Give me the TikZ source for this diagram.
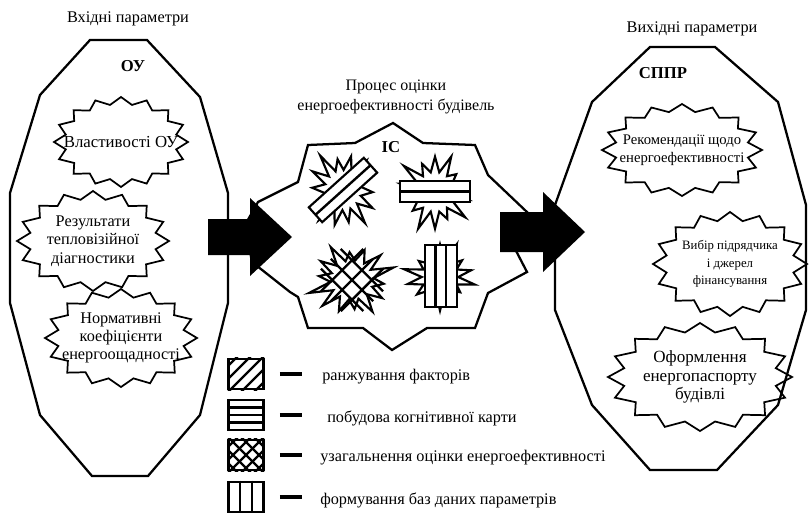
\documentclass[tikz,border=0pt]{standalone}
\usepackage{fontspec}
\setmainfont{Liberation Serif}
\usetikzlibrary{calc}

% wavy "seal" outline round a text node: centre, x radius, y radius, inner ratio
\newcommand\sealoutline[4]{%
  \draw[sealline, shift={(#1)}] plot[samples at={0,...,31}]
    ({(1-(1-#4)*mod(\x,2))*#2*cos(90+\x*11.25)},
     {(1-(1-#4)*mod(\x,2))*#3*sin(90+\x*11.25)}) -- cycle;}

% irregular spiky burst: centre, x radius, y radius, rotation, seed
\newcommand\burst[5]{%
  \draw[burstline, shift={(#1)}, rotate=#4] plot[samples at={0,...,27}]
    ({(mod(\x,2)*0.48+(1-mod(\x,2))*(0.68+0.032*mod(7*\x+#5,11)))*#2*cos(90+\x*360/28)},
     {(mod(\x,2)*0.48+(1-mod(\x,2))*(0.68+0.032*mod(7*\x+#5,11)))*#3*sin(90+\x*360/28)}) -- cycle;}

% black block arrow: base, body length, body half height, head length, head half height
\newcommand\blockarrow[5]{%
  \fill (#1) ++(0,-#3) -- ++(#2,0) -- ++(0,{-(#5-#3)}) -- ++(#4,#5)
    -- ++(-#4,#5) -- ++(0,{-(#5-#3)}) -- ++(-#2,0) -- cycle;}

\begin{document}
\begin{tikzpicture}[x=0.75pt,y=-0.75pt,
  every node/.style={inner sep=0pt, align=center},
  rm/.style={font=\fontsize{12.2}{13.7}\selectfont},
  hd/.style={font=\fontsize{12.5}{14}\selectfont\bfseries},
  shell/.style={line width=1.7pt, line join=miter},
  sealline/.style={line width=1.3pt, line join=miter},
  burstline/.style={line width=1.6pt, line join=miter, fill=white},
  band/.style={line width=1.6pt, fill=white},
  keybox/.style={draw, line width=2.2pt, minimum width=26pt, minimum height=22.5pt},
  keyline/.style={line width=1.8pt},
  keydash/.style={line width=2.6pt}]

\useasboundingbox[fill=white] (0,0) rectangle (809,515);

% ---- headings
\node[rm] (tin)  at (128,19) {Вхідні параметри};
\node[rm] (tout) at (692,29) {Вихідні параметри};
\node[font=\fontsize{12}{15}\selectfont] (proc) at (396,97) {Процес оцінки\\енергоефективності будівель};

% ---- outer shells
\draw[shell] (90,40) -- (147,40) -- (200,97) -- (228,193) -- (228,303) -- (200,415)
  -- (148,476) -- (92,476) -- (40,415) -- (10,303) -- (10,193) -- (40,95) -- cycle;
\draw[shell] (650,47) -- (715,47) -- (778,102) -- (806,205) -- (806,310) -- (778,405)
  -- (717,470) -- (650,470) -- (592,405) -- (555,310) -- (555,205) -- (592,102) -- cycle;
\draw[shell] (393,123) -- (423,143) -- (475,145) -- (488,175) -- (528,213) -- (513,245)
  -- (527,272) -- (488,293) -- (475,328) -- (427,328) -- (392,350) -- (363,328)
  -- (308,328) -- (298,297) -- (290,292) -- (252,262) -- (245,225) -- (258,202)
  -- (298,182) -- (308,145) -- (355,143) -- cycle;

\node[hd] (ou)   at (133,66) {ОУ};
\node[hd] (ic)   at (391,147) {ІС};
\node[hd] (sppr) at (663,73) {СППР};

% ---- input parameters
\node[font=\fontsize{12.6}{13.7}\selectfont] (s1) at (121,142) {Властивості ОУ};
\node[rm] (s2) at (93,241) {Результати\\тепловізійної\\діагностики};
\node[rm] (s3) at (121,338) {Нормативні\\коефіцієнти\\енергоощадності};
\sealoutline{s1}{67}{45}{0.84}
\sealoutline{s2}{76}{50}{0.84}
\sealoutline{s3}{76}{49}{0.84}

% ---- output parameters
\node[font=\fontsize{11}{13.7}\selectfont] (r1) at (682,150) {Рекомендації щодо\\енергоефективності};
\node[font=\fontsize{9.6}{13.1}\selectfont] (r2) at (730,264) {Вибір підрядчика\\і джерел\\фінансування};
\node[font=\fontsize{12.8}{13.8}\selectfont] (r3) at (700,377) {Оформлення\\енергопаспорту\\будівлі};
\sealoutline{r1}{80}{46}{0.84}
\sealoutline{r2}{77}{52}{0.84}
\sealoutline{r3}{92}{54}{0.84}

% ---- the four processing bursts
\coordinate (b1) at (343,190);
\coordinate (b2) at (435,192);
\coordinate (b3) at (352,280);
\coordinate (b4) at (440,277);
\burst{b1}{38}{42}{10}{3}
\burst{b2}{40}{42}{0}{6}
\burst{b3}{45}{41}{5}{1}
\burst{b4}{38}{36}{0}{8}
% diagonal band
\begin{scope}[shift={(b1)}, rotate=42]
  \draw[band] (-37,-10) rectangle (37,10);
  \draw[keyline] (-37,0) -- (37,0);
\end{scope}
% horizontal band
\begin{scope}[shift={(b2)}]
  \draw[band] (-35,-11) rectangle (35,10);
  \draw[keyline] (-35,-0.5) -- (35,-0.5);
\end{scope}
% cross-hatching
\begin{scope}[shift={(b3)}, rotate=45]
  \foreach \o in {-14,0,14} {
    \draw[keyline] (-30,\o) -- (30,\o);
    \draw[keyline] (\o,-30) -- (\o,30);
  }
\end{scope}
% vertical band
\begin{scope}[shift={(b4)}]
  \draw[band] (-15,-32) rectangle (17,30);
  \draw[keyline] (-4.5,-32) -- (-4.5,30);
  \draw[keyline] (6,-32) -- (6,30);
\end{scope}

% ---- block arrows
\coordinate (la) at (208,237);
\coordinate (ra) at (500,232);
\blockarrow{la}{42}{18}{42}{39}
\blockarrow{ra}{43}{20}{42}{40}

% ---- key
\node[keybox] (k1) at (246,374) {};
\node[keybox] (k2) at (246,415) {};
\node[keybox] (k3) at (246,455) {};
\node[keybox] (k4) at (246,497) {};
\begin{scope}
  \clip (k1.south west) rectangle (k1.north east);
  \foreach \d in {-26,-13,0,13,26}
    \draw[keyline] (k1.center) ++(\d-20,20) -- ++(40,-40);
\end{scope}
\foreach \d in {-7.5,0,7.5}
  \draw[keyline] (k2.west) ++(0,\d) -- ++(35,0);
\begin{scope}
  \clip (k3.south west) rectangle (k3.north east);
  \foreach \d in {-26,-13,0,13,26} {
    \draw[keyline] (k3.center) ++(\d-20,20) -- ++(40,-40);
    \draw[keyline] (k3.center) ++(\d-20,-20) -- ++(40,40);
  }
\end{scope}
\foreach \d in {-6,6}
  \draw[keyline] (k4.north) ++(\d,0) -- ++(0,31);

\foreach \k in {k1,k2,k3,k4}
  \draw[keydash] (\k.east) ++(15,0) -- ++(22,0);

\node[rm, anchor=west] (k1t) at (322,377) {ранжування факторів};
\node[rm, anchor=west] (k2t) at (327,418) {побудова когнітивної карти};
\node[rm, anchor=west] (k3t) at (320,458) {узагальнення оцінки енергоефективності};
\node[rm, anchor=west] (k4t) at (320,500) {формування баз даних параметрів};
\end{tikzpicture}
\end{document}
